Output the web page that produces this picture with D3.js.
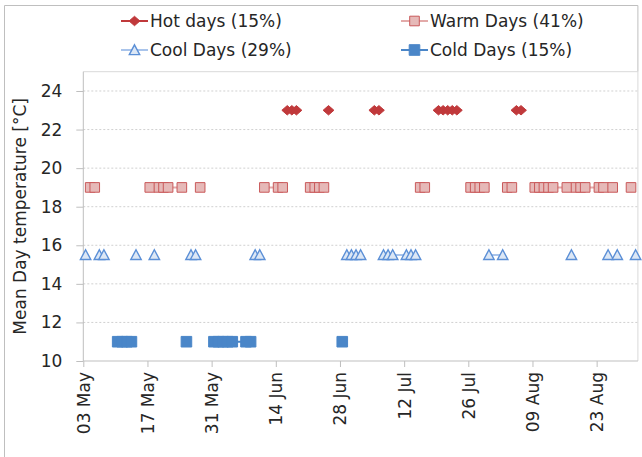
<!DOCTYPE html>
<html>
<head>
<meta charset="utf-8">
<script src="https://cdn.jsdelivr.net/npm/d3@7"></script>
<style>
  body { margin: 0; background: #fff; }
  text { font-family: "DejaVu Sans", sans-serif; fill: #262626; }
</style>
</head>
<body>
<svg id="chart" width="642" height="457"></svg>
<script>
// ---- data -------------------------------------------------------------
const year = 2021;
const periodStart = "05-03";
const periodEnd = "09-01";
const tickDates = ["05-03", "05-17", "05-31", "06-14", "06-28", "07-12", "07-26", "08-09", "08-23"];
const yTickValues = [10, 12, 14, 16, 18, 20, 22, 24];

const seriesNames = ["Hot days (15%)", "Warm Days (41%)", "Cool Days (29%)", "Cold Days (15%)"];
const seriesLevels = [23, 19, 15.5, 11];

const hotDays = ["06-16", "06-17", "06-18", "06-25", "07-05", "07-06", "07-19", "07-20", "07-21",
  "07-22", "07-23", "08-05", "08-06"];
const warmDays = ["05-04", "05-05", "05-17", "05-19", "05-20", "05-21", "05-24", "05-28", "06-11",
  "06-14", "06-15", "06-21", "06-22", "06-23", "06-24", "07-15", "07-16", "07-26", "07-27", "07-28",
  "07-29", "08-03", "08-04", "08-09", "08-10", "08-11", "08-12", "08-13", "08-16", "08-18", "08-19",
  "08-20", "08-23", "08-24", "08-26", "08-30"];
const coolDays = ["05-03", "05-06", "05-07", "05-14", "05-18", "05-26", "05-27", "06-09", "06-10",
  "06-29", "06-30", "07-01", "07-02", "07-07", "07-08", "07-09", "07-12", "07-13", "07-14", "07-30",
  "08-02", "08-17", "08-25", "08-27", "08-31"];
const coldDays = ["05-10", "05-11", "05-12", "05-13", "05-25", "05-31", "06-01", "06-02", "06-03",
  "06-04", "06-07", "06-08", "06-28"];

// ---- helpers ----------------------------------------------------------
const parseDay = md => d3.utcParse("%Y-%m-%d")(`${year}-${md}`);

const styles = [
  { line: "#C0393B", marker: "diamond", fill: "#C0393B", stroke: "#C0393B" },
  { line: "#E3AAA9", marker: "square", fill: "#E6B9B8", stroke: "#C9595A" },
  { line: "#A9C4EB", marker: "triangle", fill: "#DCE7F5", stroke: "#5B8FD6" },
  { line: "#4A86C8", marker: "squareSolid", fill: "#4A86C8", stroke: "#4A86C8" }
];

const markerPath = {
  diamond: "M0,-4.7L5.4,0L0,4.7L-5.4,0Z",
  square: "M-4.8,-4.8H4.8V4.8H-4.8Z",
  triangle: "M0,-5.2L5.2,4.6H-5.2Z",
  squareSolid: "M-5.3,-5.3H5.3V5.3H-5.3Z"
};

// ---- layout -----------------------------------------------------------
const svg = d3.select("#chart");
const plot = { left: 83.3, right: 637.9, top: 71.7, bottom: 361 };

svg.append("rect").attr("width", 642).attr("height", 457).attr("fill", "#fff");

// chart frame
svg.append("path")
  .attr("d", `M4.5,457V5.5H${plot.right}V${plot.top}`)
  .attr("fill", "none").attr("stroke", "#BFBFBF").attr("stroke-width", 1);

const x = d3.scaleUtc()
  .domain([parseDay(periodStart), parseDay(periodEnd)])
  .range([plot.left, plot.right]);
const y = d3.scaleLinear().domain([10, 25]).range([plot.bottom, plot.top]);

// each value sits in the middle of its day
const xMid = d => x(d3.utcHour.offset(d, 12));

// plot area border (top and right)
svg.append("path")
  .attr("d", `M${plot.left},${plot.top}H${plot.right}V${plot.bottom}`)
  .attr("fill", "none").attr("stroke", "#D9D9D9").attr("stroke-width", 1);

// gridlines
svg.append("g").selectAll("line")
  .data(yTickValues.filter(v => v > 10))
  .join("line")
  .attr("x1", plot.left).attr("x2", plot.right)
  .attr("y1", d => y(d)).attr("y2", d => y(d))
  .attr("stroke", "#D0D0D0").attr("stroke-width", 1).attr("stroke-dasharray", "2,2");

// y axis
const yAxis = svg.append("g")
  .attr("transform", `translate(${plot.left},0)`)
  .call(d3.axisLeft(y).tickValues(yTickValues).tickSize(7).tickPadding(14).tickFormat(d3.format("d")));
yAxis.select(".domain").attr("stroke", "#BFBFBF").attr("d", `M0,${plot.top}V${plot.bottom}`);
yAxis.selectAll(".tick line").attr("stroke", "#BFBFBF");
yAxis.selectAll(".tick text").attr("font-size", 17).attr("fill", "#262626")
  .style("font-family", '"DejaVu Sans", sans-serif');

// x axis
const xAxis = svg.append("g")
  .attr("transform", `translate(0,${plot.bottom})`)
  .call(d3.axisBottom(x).tickValues(tickDates.map(parseDay)).tickSize(6).tickFormat(d3.utcFormat("%d %b")));
xAxis.select(".domain").attr("stroke", "#BFBFBF").attr("d", `M${plot.left},0H${plot.right}`);
xAxis.selectAll(".tick line").attr("stroke", "#BFBFBF");
xAxis.selectAll(".tick text")
  .attr("font-size", 17).attr("fill", "#262626")
  .style("font-family", '"DejaVu Sans", sans-serif')
  .attr("text-anchor", "end")
  .attr("dy", null).attr("y", null)
  .attr("transform", "translate(6,11) rotate(-90)");

// y title
svg.append("text")
  .attr("transform", `translate(26,${(plot.top + plot.bottom) / 2}) rotate(-90)`)
  .attr("text-anchor", "middle")
  .attr("font-size", 17)
  .text("Mean Day temperature [°C]");

// ---- series -----------------------------------------------------------
const rows = d3.utcDay.range(parseDay(periodStart), parseDay(periodEnd))
  .filter(d => d.getUTCDay() !== 0 && d.getUTCDay() !== 6);

const dayLists = [hotDays, warmDays, coolDays, coldDays];

dayLists.forEach((days, i) => {
  const set = new Set(days.map(md => +parseDay(md)));
  const level = seriesLevels[i];
  const values = rows.map(d => ({ date: d, value: set.has(+d) ? level : null }));
  const st = styles[i];
  const g = svg.append("g");

  g.append("path")
    .datum(values)
    .attr("fill", "none")
    .attr("stroke", st.line)
    .attr("stroke-width", 2)
    .attr("d", d3.line().defined(d => d.value !== null).x(d => xMid(d.date)).y(d => y(d.value)));

  g.selectAll("path.mk")
    .data(values.filter(d => d.value !== null))
    .join("path")
    .attr("class", "mk")
    .attr("transform", d => `translate(${xMid(d.date)},${y(d.value)})`)
    .attr("d", markerPath[st.marker])
    .attr("fill", st.fill)
    .attr("stroke", st.stroke)
    .attr("stroke-width", st.marker === "triangle" ? 1.4 : 1);
});

// ---- legend -----------------------------------------------------------
const legendPos = [
  { x: 121, y: 21 }, { x: 401, y: 21 },
  { x: 121, y: 50 }, { x: 401, y: 50 }
];
seriesNames.forEach((name, i) => {
  const st = styles[i];
  const p = legendPos[i];
  const g = svg.append("g").attr("transform", `translate(${p.x},${p.y})`);
  g.append("line").attr("x1", 0).attr("x2", 27).attr("y1", 0).attr("y2", 0)
    .attr("stroke", st.line).attr("stroke-width", 2);
  g.append("path").attr("transform", "translate(13.5,0)")
    .attr("d", markerPath[st.marker])
    .attr("fill", st.fill).attr("stroke", st.stroke)
    .attr("stroke-width", st.marker === "triangle" ? 1.4 : 1);
  g.append("text").attr("x", 29).attr("y", 0).attr("dy", "0.35em")
    .attr("font-size", 17).text(name);
});
</script>
</body>
</html>
